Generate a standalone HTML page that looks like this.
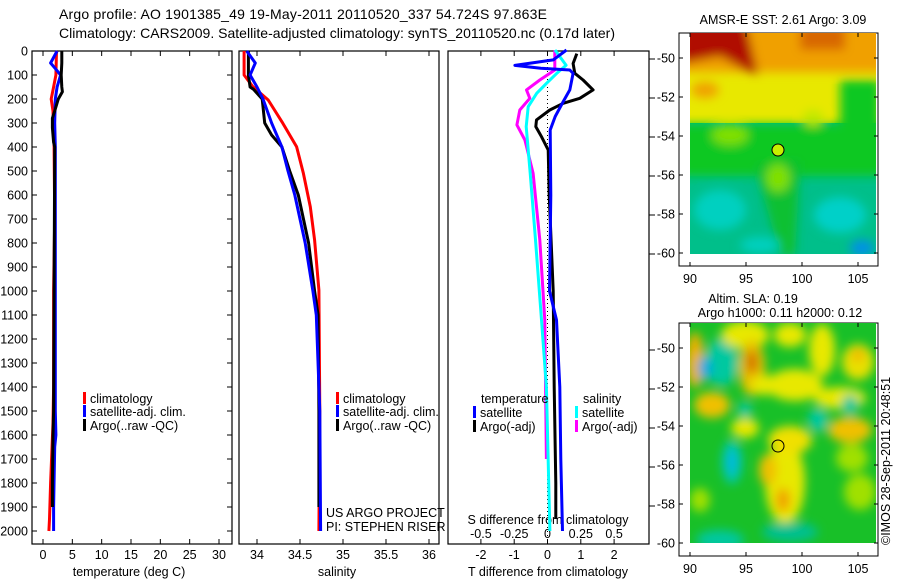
<!DOCTYPE html>
<html><head><meta charset="utf-8"><style>
body{margin:0;background:#fff;}
svg{display:block;font-family:"Liberation Sans",sans-serif;}
text{font-size:12.5px;fill:#000;}
</style></head><body>
<svg id="chart" width="900" height="580" viewBox="0 0 900 580" xmlns="http://www.w3.org/2000/svg">
<defs>
<filter id="bl" x="-20%" y="-20%" width="140%" height="140%"><feGaussianBlur stdDeviation="5"/></filter>
<clipPath id="cm1"><rect x="690" y="33" width="186" height="221"/></clipPath>
<clipPath id="cm2"><rect x="690" y="323" width="186" height="220"/></clipPath>
</defs>
<text x="59" y="19" style="font-size:14px" textLength="488">Argo profile: AO 1901385_49 19-May-2011 20110520_337 54.724S 97.863E</text>
<text x="59" y="38" style="font-size:14px" textLength="556">Climatology: CARS2009. Satellite-adjusted climatology: synTS_20110520.nc (0.17d later)</text>

<g id="panels"></g>

<!-- SST map -->
<g>
<text x="783" y="24" text-anchor="middle">AMSR-E SST: 2.61 Argo: 3.09</text>
<rect x="679" y="33" width="199" height="233" fill="none" stroke="#000"/>
<g clip-path="url(#cm1)">
<rect x="690" y="33" width="186" height="221" fill="#00bf8a"/>
<rect x="690" y="33" width="186" height="90" fill="#e8e800"/>
<g filter="url(#bl)">
<rect x="680" y="20" width="210" height="52" fill="#f0a000"/>
<path d="M680 20 L745 20 L758 75 L745 70 L720 56 L680 64Z" fill="#b00800"/>
<rect x="800" y="25" width="45" height="25" fill="#d86800"/>
<ellipse cx="705" cy="90" rx="14" ry="8" fill="#f0a000"/>
<rect x="680" y="124" width="210" height="52" fill="#10c820"/>
<rect x="840" y="80" width="40" height="50" fill="#10c820"/>
<ellipse cx="730" cy="135" rx="18" ry="10" fill="#80e000"/>
<ellipse cx="813" cy="118" rx="10" ry="8" fill="#c0e800"/>
<path d="M755 165 L800 160 L795 255 L780 255Z" fill="#10c030"/>
<ellipse cx="778" cy="178" rx="12" ry="14" fill="#80e000"/>
<ellipse cx="720" cy="210" rx="26" ry="20" fill="#00d0c0"/>
<ellipse cx="840" cy="215" rx="26" ry="18" fill="#00d0c8"/>
<ellipse cx="862" cy="248" rx="12" ry="8" fill="#0090e8"/>
<ellipse cx="760" cy="245" rx="20" ry="8" fill="#00d0c0"/>
</g>
</g>
<circle cx="778" cy="150" r="6" fill="#c8f000" stroke="#000"/>
</g>

<!-- SLA map -->
<g>
<text x="753" y="303" text-anchor="middle">Altim. SLA: 0.19</text>
<text x="780" y="317" text-anchor="middle">Argo h1000: 0.11 h2000: 0.12</text>
<rect x="679" y="323" width="199" height="233" fill="none" stroke="#000"/>
<g clip-path="url(#cm2)">
<rect x="690" y="323" width="186" height="220" fill="#18c028"/>
<g filter="url(#bl)">
<ellipse cx="695" cy="360" rx="9" ry="28" fill="#f0b000"/>
<ellipse cx="722" cy="362" rx="16" ry="24" fill="#00c8a0"/>
<ellipse cx="705" cy="368" rx="7" ry="12" fill="#00a8e0"/>
<ellipse cx="745" cy="335" rx="24" ry="14" fill="#e8e800"/>
<ellipse cx="752" cy="368" rx="13" ry="28" fill="#e8c000"/>
<ellipse cx="752" cy="362" rx="5" ry="12" fill="#d06000"/>
<ellipse cx="790" cy="335" rx="16" ry="12" fill="#e8e800"/>
<ellipse cx="795" cy="385" rx="28" ry="16" fill="#e8e800"/>
<ellipse cx="822" cy="350" rx="13" ry="26" fill="#e8e800"/>
<ellipse cx="858" cy="362" rx="16" ry="18" fill="#e8e000"/>
<ellipse cx="858" cy="355" rx="6" ry="6" fill="#f0b000"/>
<ellipse cx="840" cy="398" rx="26" ry="11" fill="#e8e800"/>
<ellipse cx="850" cy="430" rx="22" ry="13" fill="#f0c000"/>
<ellipse cx="712" cy="405" rx="18" ry="13" fill="#f0c000"/>
<ellipse cx="745" cy="428" rx="14" ry="10" fill="#e8e800"/>
<ellipse cx="765" cy="385" rx="14" ry="10" fill="#e8e800"/>
<ellipse cx="785" cy="482" rx="20" ry="42" fill="#e8e800"/>
<ellipse cx="768" cy="470" rx="9" ry="16" fill="#f0c000"/>
<ellipse cx="783" cy="500" rx="7" ry="12" fill="#f0a000"/>
<ellipse cx="732" cy="462" rx="10" ry="22" fill="#00c8b0"/>
<ellipse cx="732" cy="462" rx="5" ry="11" fill="#00b8e0"/>
<ellipse cx="745" cy="410" rx="7" ry="8" fill="#00c8a0"/>
<ellipse cx="790" cy="440" rx="22" ry="14" fill="#f0e000"/>
<ellipse cx="852" cy="458" rx="16" ry="14" fill="#a0e000"/>
<ellipse cx="818" cy="420" rx="10" ry="12" fill="#00c8a0"/>
<ellipse cx="850" cy="405" rx="8" ry="10" fill="#00c8a0"/>
<ellipse cx="720" cy="540" rx="24" ry="10" fill="#00c8a0"/>
<ellipse cx="790" cy="532" rx="28" ry="10" fill="#00c090"/>
<ellipse cx="860" cy="492" rx="16" ry="18" fill="#a0e000"/>
<ellipse cx="700" cy="500" rx="10" ry="12" fill="#a0e000"/>
</g>
</g>
<circle cx="778" cy="446" r="6" fill="none" stroke="#000"/>
</g>
<text x="0" y="0" transform="translate(890,545) rotate(-90)">©IMOS 28-Sep-2011 20:48:51</text>
<g id="maps-axes"></g>
</svg>
<script>
// ---- data ----
const depthTicks = [0,100,200,300,400,500,600,700,800,900,1000,1100,1200,1300,1400,1500,1600,1700,1800,1900,2000];
const tempTicks = [0,5,10,15,20,25,30];
const salTicks = [34,34.5,35,35.5,36];
const tdiffTicks = [-2,-1,0,1,2];
const sdiffTicks = [-0.5,-0.25,0,0.25,0.5];
const latTicks = [-50,-52,-54,-56,-58,-60];
const lonTicks = [90,95,100,105];

const tClimDepth = [0,100,150,200,250,400,700,1000,1400,1550,1800,1950,2000];
const tClimVal   = [2.3,2.2,1.8,1.4,1.7,1.9,2.0,1.8,1.8,1.7,1.3,1.1,1.0];
const tSatDepth  = [0,50,70,100,150,200,300,400,1000,1500,1600,1650,1900,2000];
const tSatVal    = [2.4,1.3,2.0,3.0,2.4,2.1,2.0,2.1,2.1,2.1,2.2,2.0,1.8,1.8];
const tArgoDepth = [0,50,100,150,170,200,250,280,320,380,400,1000,1500,1600,1800,1900];
const tArgoVal   = [3.2,3.2,3.1,3.2,3.3,2.6,2.0,1.6,1.6,1.8,2.0,1.9,1.8,1.7,1.6,1.6];

const sClimDepth = [0,100,148,204,301,399,510,649,788,996,1500,2000];
const sClimVal   = [33.85,33.85,33.95,34.13,34.30,34.46,34.54,34.62,34.67,34.72,34.73,34.72];
const sSatDepth  = [0,50,100,150,200,300,400,500,600,800,1000,1100,1500,2000];
const sSatVal    = [33.88,33.98,33.92,34.0,34.07,34.17,34.29,34.36,34.44,34.56,34.65,34.69,34.73,34.74];
const sArgoDepth = [0,100,150,160,200,300,350,400,500,600,800,1000,1100,1500,1900];
const sArgoVal   = [33.9,33.9,33.92,33.96,34.06,34.09,34.17,34.29,34.38,34.48,34.60,34.67,34.71,34.72,34.72];

const dTSatDepth = [-4,37,60,72,79,93,162,211,273,329,600,1000,1121,1400,1700,2000];
const dTSatVal   = [0.57,0.17,-0.98,-0.2,0.67,0.77,0.67,0.47,0.23,0.08,0.1,0.06,0.27,0.37,0.4,0.45];
const dTArgoDepth = [11,52,93,121,162,197,218,246,287,315,357,412,600,1000,1400,1800,1950];
const dTArgoVal   = [0.88,0.77,0.82,1.07,1.37,0.97,0.47,0.07,-0.33,-0.35,-0.18,0.02,0.05,0.17,0.2,0.25,0.25];
const dSSatDepth = [-4,59,93,135,176,232,315,509,787,1121,1400,2000];
const dSSatVal   = [0.056,0.14,0.07,-0.008,-0.08,-0.145,-0.16,-0.13,-0.09,-0.045,-0.008,0.018];
const dSArgoDepth = [-4,79,121,162,197,246,308,371,509,787,1121,1700];
const dSArgoVal   = [0.055,0.055,-0.058,-0.158,-0.133,-0.208,-0.23,-0.17,-0.108,-0.058,-0.02,-0.008];

// ---- scales ----
const Y0=51, Y1=531;
function yD(d){return Y0+(d/2000)*(Y1-Y0);}
function xT(v){return 43+v*(219-43)/30;}
function xS(v){return 257+(v-34)*(429-257)/2;}
function xDT(v){return 547.5+v*33.3;}
function xDS(v){return 547.5+v*4*33.3;}

const NS="http://www.w3.org/2000/svg";
const root=document.getElementById('panels');
function mk(tag,attrs,parent){const e=document.createElementNS(NS,tag);for(const k in attrs)e.setAttribute(k,attrs[k]);(parent||root).appendChild(e);return e;}
function txt(s,x,y,anchor,parent){const t=mk('text',{x:x,y:y,'text-anchor':anchor||'start'},parent);t.textContent=s;return t;}

function line(depths,vals,xf,color,name){
  const pts=depths.map((d,i)=>xf(vals[i]).toFixed(1)+','+yD(d).toFixed(1)).join(' ');
  const p=mk('polyline',{points:pts,fill:'none',stroke:color,'stroke-width':3,'stroke-linejoin':'round'});
  
  
}

const panels=[[32,232],[239,439],[448,649]];
panels.forEach((p,i)=>{
  const r=mk('rect',{x:p[0],y:51,width:p[1]-p[0],height:493,fill:'none',stroke:'#000','stroke-width':1.2});
  
  
});
depthTicks.forEach(d=>{
  const t=txt(String(d),28,yD(d)+4.5,'end');
  
  
  mk('line',{x1:32,x2:37,y1:yD(d),y2:yD(d),stroke:'#000'});
  mk('line',{x1:227,x2:232,y1:yD(d),y2:yD(d),stroke:'#000'});
});
tempTicks.forEach(v=>{
  const t=txt(String(v),xT(v),559,'middle');
  
  
  mk('line',{x1:xT(v),x2:xT(v),y1:544,y2:539,stroke:'#000'});
  mk('line',{x1:xT(v),x2:xT(v),y1:51,y2:56,stroke:'#000'});
});
let at=txt('temperature (deg C)',129,576,'middle');


salTicks.forEach(v=>{
  const t=txt(String(v),xS(v),559,'middle');
  
  
  mk('line',{x1:xS(v),x2:xS(v),y1:544,y2:539,stroke:'#000'});
  mk('line',{x1:xS(v),x2:xS(v),y1:51,y2:56,stroke:'#000'});
});
at=txt('salinity',337,576,'middle');


tdiffTicks.forEach(v=>{
  const t=txt(String(v),xDT(v),559,'middle');
  
  
  mk('line',{x1:xDT(v),x2:xDT(v),y1:544,y2:539,stroke:'#000'});
  mk('line',{x1:xDT(v),x2:xDT(v),y1:51,y2:56,stroke:'#000'});
});
sdiffTicks.forEach(v=>{
  const t=txt(String(v),xDS(v),538,'middle');
  
  
});
at=txt('S difference from climatology',548,524,'middle');


at=txt('T difference from climatology',548,576,'middle');


for(let k=0;k<6;k++) mk('line',{x1:649,x2:655,y1:59+39*k,y2:59+39*k,stroke:'#000'});
for(let k=0;k<5;k++) mk('line',{x1:649,x2:655,y1:350+39*k,y2:350+39*k,stroke:'#000'});

const z=mk('line',{x1:xDT(0),x2:xDT(0),y1:51,y2:544,stroke:'#000','stroke-dasharray':'1,3'});



line(tClimDepth,tClimVal,xT,'#ff0000','temp-climatology-line');
line(tSatDepth,tSatVal,xT,'#0000ff','temp-satellite-line');
line(tArgoDepth,tArgoVal,xT,'#000000','temp-argo-line');
line(sClimDepth,sClimVal,xS,'#ff0000','sal-climatology-line');
line(sArgoDepth,sArgoVal,xS,'#000000','sal-argo-line');
line(sSatDepth,sSatVal,xS,'#0000ff','sal-satellite-line');
line(dSArgoDepth,dSArgoVal,xDS,'#ff00ff','sdiff-argo-line');
line(dSSatDepth,dSSatVal,xDS,'#00ffff','sdiff-satellite-line');
line(dTArgoDepth,dTArgoVal,xDT,'#000000','tdiff-argo-line');
line(dTSatDepth,dTSatVal,xDT,'#0000ff','tdiff-satellite-line');

function leg(x,y,color,label,name){
  const g=mk('g',{});
  
  
  mk('rect',{x:x,y:y-11,width:3,height:12,fill:color},g);
  txt(label,x+7,y,'start',g);
}
leg(83,403,'#ff0000','climatology','legend-temp-climatology');
leg(83,416,'#0000ff','satellite-adj. clim.','legend-temp-satellite');
leg(83,430,'#000000','Argo(..raw -QC)','legend-temp-argo');
leg(336,403,'#ff0000','climatology','legend-sal-climatology');
leg(336,416,'#0000ff','satellite-adj. clim.','legend-sal-satellite');
leg(336,430,'#000000','Argo(..raw -QC)','legend-sal-argo');
at=txt('temperature',481,403);


at=txt('salinity',583,403);


leg(473,417,'#0000ff','satellite','legend-tdiff-satellite');
leg(473,431,'#000000','Argo(-adj)','legend-tdiff-argo');
leg(575,417,'#00ffff','satellite','legend-sdiff-satellite');
leg(575,431,'#ff00ff','Argo(-adj)','legend-sdiff-argo');
at=txt('US ARGO PROJECT',326,517);


at=txt('PI: STEPHEN RISER',326,531);



const ma=document.getElementById('maps-axes');
[[33,266,58],[323,556,348]].forEach((m,mi)=>{
  latTicks.forEach((v,k)=>{
    const y=m[2]+k*39;
    const t=txt(String(v),675,y+4.5,'end',ma);
    
    
    mk('line',{x1:679,x2:683,y1:y,y2:y,stroke:'#000'},ma);
    mk('line',{x1:874,x2:878,y1:y,y2:y,stroke:'#000'},ma);
  });
  lonTicks.forEach(v=>{
    const x=690+(v-90)*11.2;
    const t=txt(String(v),x,m[1]+17,'middle',ma);
    
    
    mk('line',{x1:x,x2:x,y1:m[1],y2:m[1]-4,stroke:'#000'},ma);
    mk('line',{x1:x,x2:x,y1:m[0],y2:m[0]+4,stroke:'#000'},ma);
  });
});
</script>
</body></html>
